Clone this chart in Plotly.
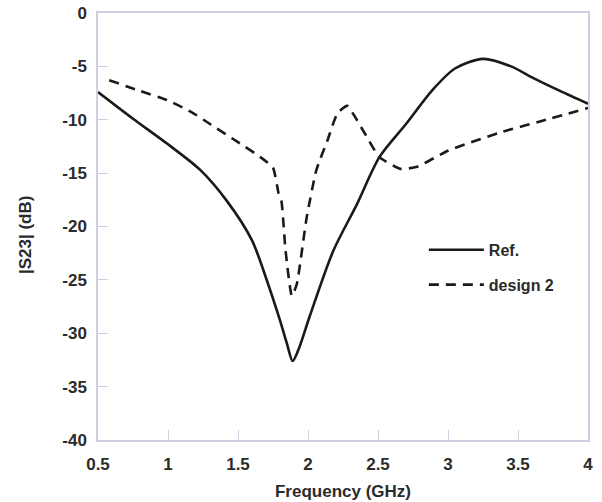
import plotly.graph_objects as go

ref_freq = [0.5, 0.75, 1.0, 1.23, 1.42, 1.6, 1.71, 1.8, 1.85, 1.89, 1.93, 2.01, 2.18, 2.35, 2.51, 2.7, 2.89, 3.05, 3.25, 3.45, 3.61, 3.8, 4.0]
ref_s23 = [-7.4, -9.9, -12.3, -14.7, -17.6, -21.3, -25.2, -28.8, -31.0, -32.6, -31.6, -28.5, -22.3, -17.9, -13.5, -10.4, -7.2, -5.2, -4.3, -5.0, -6.1, -7.3, -8.5]

d2_freq = [0.58, 0.8, 1.0, 1.17, 1.3, 1.5, 1.66, 1.75, 1.79, 1.81, 1.84, 1.885, 1.92, 1.99, 2.06, 2.14, 2.21, 2.28, 2.33, 2.42, 2.51, 2.66, 2.78, 3.0, 3.37, 3.73, 4.0]
d2_s23 = [-6.3, -7.3, -8.2, -9.3, -10.4, -12.1, -13.5, -14.5, -16.9, -17.6, -22.3, -26.5, -25.4, -19.2, -14.7, -11.9, -9.4, -8.7, -9.6, -11.6, -13.5, -14.6, -14.4, -12.9, -11.2, -9.9, -8.9]

x_ticks = [0.5, 1, 1.5, 2, 2.5, 3, 3.5, 4]
x_ticktext = ["0.5", "1", "1.5", "2", "2.5", "3", "3.5", "4"]
y_ticks = [0, -5, -10, -15, -20, -25, -30, -35, -40]
y_ticktext = ["0", "-5", "-10", "-15", "-20", "-25", "-30", "-35", "-40"]

font_family = "Liberation Sans, Arial, sans-serif"
text_color = "#2b2b2b"
axis_color = "#cfd0e0"

fig = go.Figure()
fig.add_trace(go.Scatter(
    x=ref_freq, y=ref_s23, mode="lines", name="Ref.", legendgroup="a",
    line=dict(color="#1a1a1a", width=2.6, shape="spline", smoothing=0.8),
))
fig.add_trace(go.Scatter(
    x=d2_freq, y=d2_s23, mode="lines", name="design 2", legendgroup="b",
    line=dict(color="#1a1a1a", width=2.6, dash="10px,7px", shape="spline", smoothing=0.5),
))

tick_font = dict(size=17, family=font_family, color=text_color, weight="bold")

fig.update_layout(
    width=602, height=502,
    margin=dict(l=98, r=14, t=13, b=62, autoexpand=False),
    paper_bgcolor="white", plot_bgcolor="white",
    font=dict(family=font_family, color=text_color),
    showlegend=True,
    legend=dict(
        x=0.665, y=0.485, xanchor="left", yanchor="top",
        bgcolor="rgba(0,0,0,0)", borderwidth=0,
        font=dict(size=16, family=font_family, color=text_color, weight="bold"),
        traceorder="grouped", tracegroupgap=11, itemwidth=55,
    ),
    xaxis=dict(
        range=[0.5, 4], tickvals=x_ticks, ticktext=x_ticktext, automargin=False,
        showgrid=False, zeroline=False,
        showline=True, linecolor=axis_color, linewidth=1.5, mirror=True,
        ticks="inside", ticklen=10, tickcolor=axis_color, tickwidth=1.2,
        tickfont=tick_font, ticklabelstandoff=8,
        title=dict(text="Frequency (GHz)", font=tick_font, standoff=12),
    ),
    yaxis=dict(
        range=[-40, 0], tickvals=y_ticks, ticktext=y_ticktext, automargin=False,
        showgrid=False, zeroline=False,
        showline=True, linecolor=axis_color, linewidth=1.5, mirror=True,
        ticks="inside", ticklen=10, tickcolor=axis_color, tickwidth=1.2,
        tickfont=tick_font, ticklabelstandoff=6,
    ),
    annotations=[dict(
        text="|S23| (dB)", textangle=-90, xref="paper", yref="paper",
        x=-0.149, y=0.48, xanchor="center", yanchor="middle", showarrow=False,
        font=tick_font,
    )],
)

# remove the default 8px page margin so the 602x502 figure fills the window exactly
fig.write_html("out.html", post_script="document.body.style.margin='0';",
               config={"displayModeBar": False})
